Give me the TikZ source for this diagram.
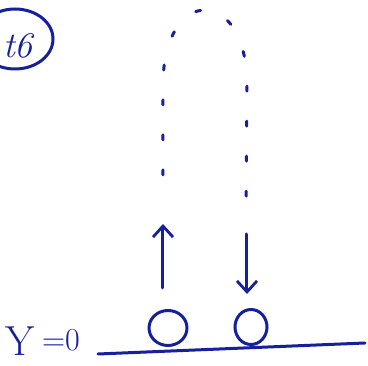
\documentclass[tikz,border=0pt]{standalone}
\usepackage{fontspec}
\usetikzlibrary{arrows.meta,shapes.geometric}
\definecolor{ink}{RGB}{22,32,155}
\begin{document}
\begin{tikzpicture}[x=1pt,y=-1pt,
  pen/.style={draw=ink,line width=3pt,line cap=round},
  traj/.style={pen,dash pattern=on 5pt off 30pt},
  arr/.style={pen,-{Straight Barb[length=11pt,width=20pt,line width=2.8pt]}},
  ball/.style={pen,ellipse,minimum width=#1,minimum height=35pt,inner sep=0pt},
  lbl/.style={text=ink,inner sep=0pt}]
\useasboundingbox (0,0) rectangle (368,366);
% tag
\node[lbl,font=\fontsize{36}{38}\selectfont\itshape] (tag) at (18,46) {t6};
\draw[pen] (15,39) ellipse [x radius=38, y radius=30];
% trajectory
\coordinate (ls) at (163,175);
\coordinate (re) at (246,218);
\draw[traj] (ls) -- (163,85) .. controls (163,-15) and (247,-15) .. (247,85) -- (re);
% arrows
\coordinate (ua0) at (163,288);
\coordinate (ua1) at (163,224);
\coordinate (da0) at (247,234);
\coordinate (da1) at (247,294);
\draw[arr] (ua0) -- (ua1);
\draw[arr] (da0) -- (da1);
% balls
\node[ball=38pt,draw] (b1) at (168,328) {};
\node[ball=32pt,draw] (b2) at (251,327) {};
% ground
\coordinate (g0) at (98,354);
\coordinate (g1) at (365,343);
\draw[pen] (g0) -- (g1);
% label
\node[lbl,font=\fontsize{42}{44}\selectfont] (yl) at (20,341) {Y};
\node[lbl,font=\fontsize{32}{34}\selectfont] (eq) at (61,340) {=0};
\end{tikzpicture}
\end{document}
